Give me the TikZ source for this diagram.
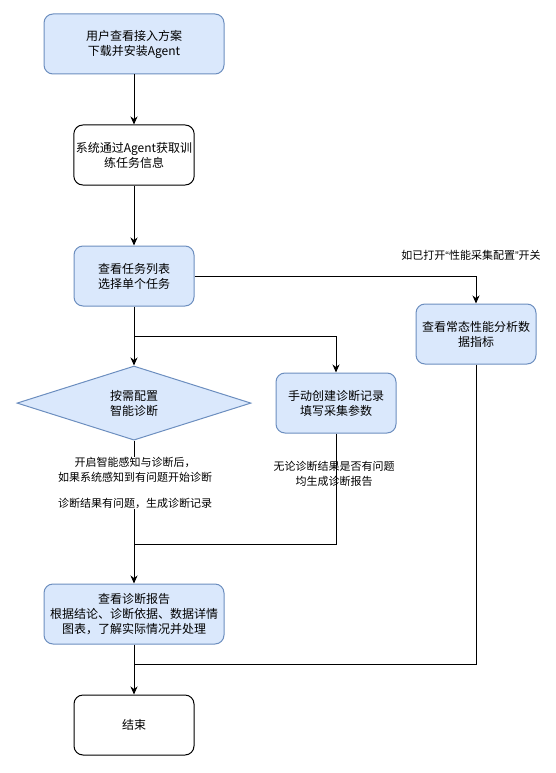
\documentclass[tikz,border=0pt]{standalone}
\usepackage{fontspec}
\setmainfont{Noto Sans CJK SC}
\newfontfamily\quotefont{Liberation Sans}
\usetikzlibrary{positioning, arrows.meta, shapes.geometric, calc}
\usepackage{xcolor}
\definecolor{boxfill}{HTML}{DAE8FC}
\definecolor{boxline}{HTML}{6C8EBF}

\begin{document}
\begin{tikzpicture}[x=1pt, y=-1pt, node distance=50pt, font=\fontsize{12}{15}\selectfont]
        % Styles
        \tikzstyle{bluebox} = [rectangle, rounded corners=9pt, minimum width=180pt, minimum height=60pt, inner sep=2pt, align=center, draw=boxline, fill=boxfill, line width=1pt]
        \tikzstyle{plainbox} = [rectangle, rounded corners=9pt, minimum width=120pt, minimum height=60pt, inner sep=2pt, align=center, draw=black, fill=white, line width=1pt]
        \tikzstyle{decision} = [diamond, minimum width=234pt, minimum height=70pt, inner sep=0pt, align=center, draw=boxline, fill=boxfill, line width=1pt]
        \tikzstyle{note} = [align=center, inner sep=1pt, font=\fontsize{11}{14.5}\selectfont]
        \tikzstyle{arrow} = [line width=1pt, -{Stealth[length=8pt, width=7pt, inset=2.5pt]}]
        \tikzstyle{link} = [line width=1pt]

        \useasboundingbox (0,0) rectangle (556,773);

        % Nodes
        \node (install) [bluebox] at (134,44) {用户查看接入方案\\下载并安装Agent};
        \node (fetch) [plainbox, below=of install] {系统通过Agent获取训\\练任务信息};
        \node (tasks) [bluebox, minimum width=120pt, below=60pt of fetch] {查看任务列表\\选择单个任务};
        \node (smart) [decision, below=59pt of tasks] {按需配置\\智能诊断};
        \node (manual) [bluebox, minimum width=120pt] at (336,403) {手动创建诊断记录\\填写采集参数};
        \node (perf) [bluebox, minimum width=120pt] at (476,334) {查看常态性能分析数\\据指标};
        \node (report) [bluebox] at (134,614) {查看诊断报告\\根据结论、诊断依据、数据详情\\图表，了解实际情况并处理};
        \node (finish) [plainbox, below=of report] {结束};

        \coordinate (fork) at ($(tasks.south)!0.5!(smart.north)$);
        \coordinate (merge) at (134,544);
        \coordinate (merge2) at (134,664);

        % Paths
        \draw [arrow] (install) -- (fetch);
        \draw [arrow] (fetch) -- (tasks);
        \draw [arrow] (tasks) -- (smart);
        \draw [arrow] (tasks.east) -| (perf);
        \draw [arrow] (fork) -| (manual);
        \draw [arrow] (smart) -- (report);
        \draw [link] (manual) |- (merge);
        \draw [link] (perf) |- (merge2);
        \draw [arrow] (report) -- (finish);

        % Notes
        \node (switchnote) [note] at (471,255) {如已打开{\quotefont “}性能采集配置{\quotefont ”}开关};
        \node (autonote) [note, fill=white] at (135,483) {开启智能感知与诊断后，\\如果系统感知到有问题开始诊断\\[11.5pt]诊断结果有问题，生成诊断记录};
        \node (manualnote) [note] at (334,474) {无论诊断结果是否有问题\\均生成诊断报告};

\end{tikzpicture}
\end{document}
